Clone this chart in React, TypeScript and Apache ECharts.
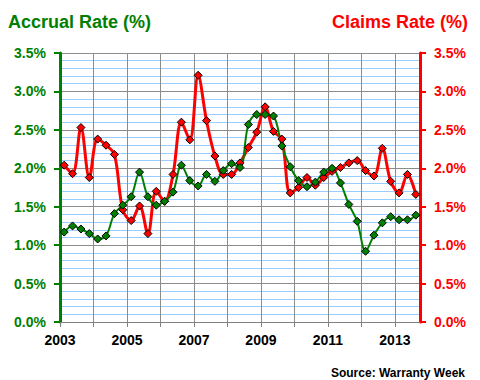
import React, { useEffect, useRef } from "react";
import * as echarts from "echarts";

// Quarterly data, 2003 Q1 .. 2013 Q3
const startYear = 2003;
const accrualRate = [
  1.17, 1.25, 1.21, 1.15, 1.08, 1.12, 1.41, 1.52, 1.63, 1.95, 1.63,
  1.52, 1.57, 1.69, 2.04, 1.84, 1.77, 1.92, 1.83, 1.97, 2.06, 2.01,
  2.57, 2.70, 2.70, 2.68, 2.29, 2.02, 1.84, 1.76, 1.82, 1.95, 2.00,
  1.81, 1.53, 1.31, 0.92, 1.13, 1.29, 1.37, 1.33, 1.33, 1.39,
];
const claimsRate = [
  2.04, 1.93, 2.53, 1.88, 2.38, 2.30, 2.18, 1.46, 1.32, 1.51, 1.15,
  1.70, 1.57, 1.92, 2.60, 2.37, 3.21, 2.62, 2.16, 1.92, 1.92, 2.07,
  2.27, 2.47, 2.80, 2.48, 2.38, 1.68, 1.75, 1.88, 1.78, 1.88, 1.96,
  2.01, 2.07, 2.10, 1.97, 1.90, 2.26, 1.83, 1.68, 1.92, 1.66,
];
const labeledYears = [2003, 2005, 2007, 2009, 2011, 2013];

const GREEN = "#008000";
const RED = "#ff0000";
const FONT = "Liberation Sans, Arial, sans-serif";

const toPoints = (vals: number[]) =>
  vals.map((v, i) => [startYear + (i + 0.5) / 4, v]);

export default function App() {
  const ref = useRef<HTMLDivElement>(null);
  useEffect(() => {
    if (!ref.current) return;
    const chart = echarts.init(ref.current, null, { renderer: "svg" });
    const pct = (v: number) => v.toFixed(1) + "%";
    chart.setOption({
      animation: false,
      backgroundColor: "#ffffff",
      textStyle: { fontFamily: FONT },
      title: [
        {
          text: "Accrual Rate (%)",
          left: 3,
          top: 8,
          textStyle: { color: GREEN, fontSize: 18, fontWeight: "bold", fontFamily: FONT },
        },
        {
          text: "Claims Rate (%)",
          right: 7,
          top: 8,
          textStyle: { color: RED, fontSize: 18, fontWeight: "bold", fontFamily: FONT },
        },
        {
          text: "Source: Warranty Week",
          right: 10,
          top: 362,
          textStyle: { color: "#000", fontSize: 12, fontWeight: "bold", fontFamily: FONT },
        },
      ],
      grid: { left: 60, right: 60, top: 53, bottom: 58 },
      xAxis: {
        type: "value",
        min: 2003,
        max: 2013.75,
        interval: 1,
        axisLine: { show: true, lineStyle: { color: "#808080", width: 1 } },
        axisTick: { show: true, length: 5, lineStyle: { color: "#808080" } },
        splitLine: { show: true, lineStyle: { color: "#8c8c8c", width: 1 } },
        axisLabel: {
          color: "#000",
          fontWeight: "bold",
          fontSize: 14,
          fontFamily: FONT,
          margin: 11,
          showMaxLabel: false,
          formatter: (v: number) => (labeledYears.includes(v) ? String(v) : ""),
        },
      },
      yAxis: [
        {
          type: "value",
          min: 0,
          max: 3.5,
          interval: 0.5,
          position: "left",
          axisLine: { show: true, lineStyle: { color: GREEN, width: 3 } },
          axisTick: { show: true, length: 6, lineStyle: { color: GREEN, width: 2 } },
          axisLabel: {
            color: GREEN,
            fontWeight: "bold",
            fontSize: 14,
            fontFamily: FONT,
            margin: 14,
            formatter: pct,
          },
          splitLine: { show: true, lineStyle: { color: "#8c8c8c", width: 1 } },
          minorTick: { show: false, splitNumber: 5 },
          minorSplitLine: { show: true, lineStyle: { color: "#99ccff", width: 1 } },
        },
        {
          type: "value",
          min: 0,
          max: 3.5,
          interval: 0.5,
          position: "right",
          axisLine: { show: true, lineStyle: { color: RED, width: 3 } },
          axisTick: { show: true, length: 6, lineStyle: { color: RED, width: 2 } },
          axisLabel: {
            color: RED,
            fontWeight: "bold",
            fontSize: 14,
            fontFamily: FONT,
            margin: 14,
            formatter: pct,
          },
          splitLine: { show: false },
        },
      ],
      series: [
        {
          name: "Claims Rate",
          type: "line",
          yAxisIndex: 1,
          data: toPoints(claimsRate),
          smooth: 0.35,
          symbol: "diamond",
          symbolSize: 8,
          lineStyle: { color: RED, width: 3 },
          itemStyle: { color: RED, borderColor: "#000", borderWidth: 1 },
        },
        {
          name: "Accrual Rate",
          type: "line",
          yAxisIndex: 0,
          data: toPoints(accrualRate),
          smooth: 0.35,
          symbol: "diamond",
          symbolSize: 8,
          lineStyle: { color: GREEN, width: 2 },
          itemStyle: { color: GREEN, borderColor: "#000", borderWidth: 1 },
        },
      ],
    });
    return () => chart.dispose();
  }, []);
  return (
    <div
      ref={ref}
      style={{ position: "fixed", left: 0, top: 0, width: 480, height: 380 }}
    />
  );
}
